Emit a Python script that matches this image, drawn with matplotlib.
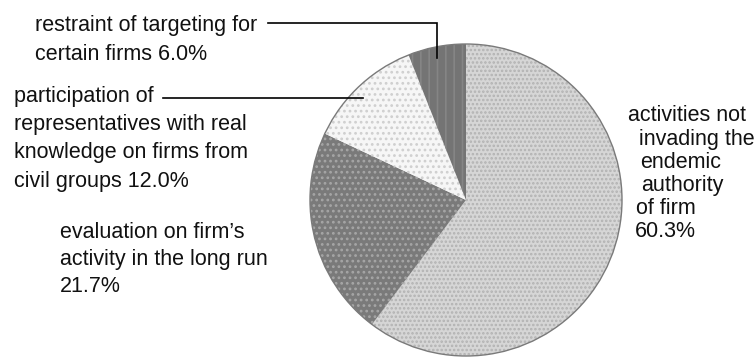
import matplotlib
matplotlib.use("Agg")
import matplotlib.pyplot as plt
from matplotlib.patches import Circle

plt.rcParams['font.family'] = ['Liberation Sans', 'DejaVu Sans']
plt.rcParams['hatch.linewidth'] = 1.2

# share of each measure, clockwise from 12 o'clock
shares = [60.3, 21.7, 12.0, 6.0]
faces = ['#d6d6d6', '#7a7a7a', '#f6f6f6', '#747474']
hatch_colors = ['#b2b2b2', '#a6a6a6', '#cfcfcf', '#858585']
hatches = ['....', '...', '...', '||']

# label lines: (text, x, baseline y) in pixels from the top-left corner
lines_small = [("restraint of targeting for", 35, 31),
               ("certain firms 6.0%", 35, 60)]
lines_part = [("participation of", 14, 102),
              ("representatives with real", 14, 130),
              ("knowledge on firms from", 14, 158),
              ("civil groups 12.0%", 14, 187)]
lines_eval = [("evaluation on firm\u2019s", 60, 238),
              ("activity in the long run", 60, 265),
              ("21.7%", 60, 292)]
lines_main = [("activities not", 628, 121),
              ("invading the", 639, 145),
              ("endemic", 640, 168),
              ("authority", 641, 191),
              ("of firm", 636, 214),
              ("60.3%", 635, 237)]

W, H = 755, 358
fig = plt.figure(figsize=(W / 100, H / 100), dpi=100)
ax = fig.add_axes([0, 0, 1, 1])

cx, cy, r = 466, 200, 156
# y axis points down, so counterclock=True runs clockwise on screen
wedges, _ = ax.pie(shares, startangle=-90, counterclock=True,
                   center=(cx, cy), radius=r, frame=True,
                   wedgeprops=dict(linewidth=0))
for w, fc, hc, h in zip(wedges, faces, hatch_colors, hatches):
    w.set_facecolor(fc)
    w.set_edgecolor(hc)
    w.set_hatch(h)
ax.add_patch(Circle((cx, cy), r, fill=False, edgecolor='#7a7a7a', lw=1.0))
ax.set_xlim(0, W)
ax.set_ylim(H, 0)
ax.set_aspect('equal')
ax.axis('off')

for block in (lines_small, lines_part, lines_eval, lines_main):
    for txt, x, y in block:
        ax.text(x, y, txt, fontsize=15.5, color='#111111',
                ha='left', va='baseline')

# leader lines
ax.plot([268, 437, 437], [23, 23, 58], color='black', lw=1.2,
        solid_joinstyle='miter')
ax.plot([163, 363], [98, 98], color='black', lw=1.2)

fig.savefig('out.png', dpi=100)
